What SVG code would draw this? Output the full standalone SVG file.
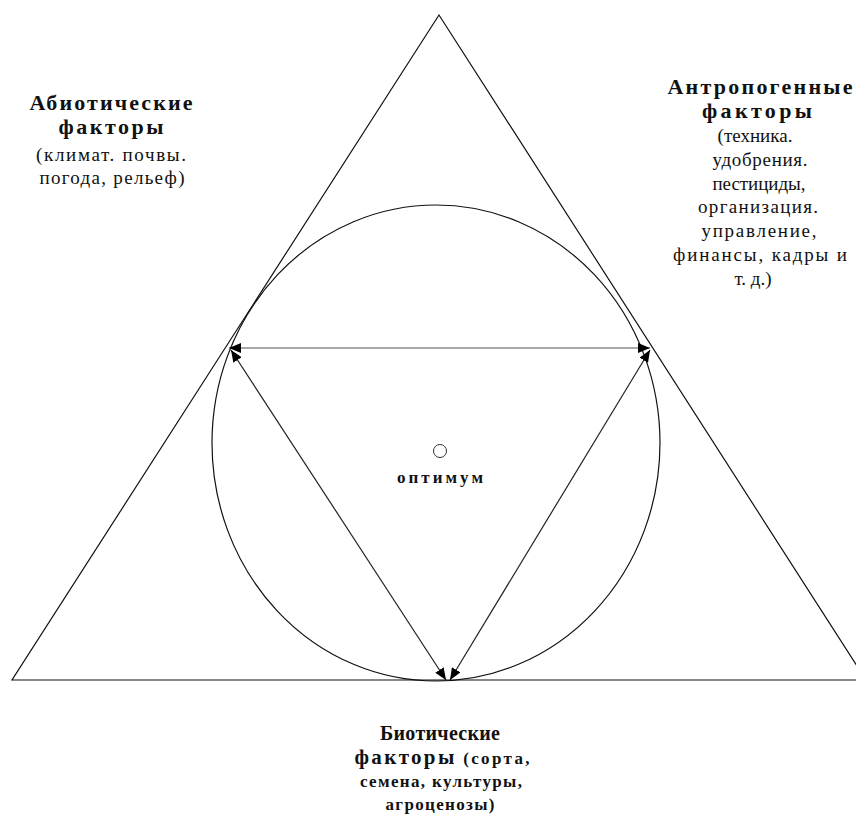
<svg xmlns="http://www.w3.org/2000/svg" width="856" height="820" viewBox="0 0 856 820" font-family="Liberation Serif, serif">
<style>
.ln{fill:none;stroke:#111;stroke-width:1.2}
.ar{fill:none;stroke:#222;stroke-width:1.2;marker-start:url(#ah);marker-end:url(#ah)}
.t{fill:#111;text-anchor:middle}
.b{font-weight:bold;font-size:22px}
.bs{font-weight:bold;font-size:17px}
.r{font-size:19px}
</style>
<defs>
<marker id="ah" viewBox="0 0 12 10" refX="12" refY="5" markerWidth="12" markerHeight="10" markerUnits="userSpaceOnUse" orient="auto-start-reverse">
<path d="M0,0 L12,5 L0,10 Z" fill="#000"/>
</marker>
</defs>
<rect width="856" height="820" fill="#fff"/>
<g id="triangle">
<polygon class="ln" points="439,15 12,680 866,680"/>
</g>
<g id="circle">
<ellipse class="ln" cx="436" cy="443" rx="224" ry="238"/>
</g>
<g id="connectors">
<line class="ar" x1="229" y1="348" x2="650" y2="348" style="stroke:#555"/>
<line class="ar" x1="231" y1="350" x2="446" y2="680"/>
<line class="ar" x1="650" y1="350" x2="450" y2="680"/>
</g>
<g id="optimum">
<circle cx="440" cy="451" r="6.5" fill="none" stroke="#333" stroke-width="1"/>
<text class="t bs" x="440" y="483" style="font-size:17px" textLength="86">оптимум</text>
</g>
<g id="abiotic">
<text class="t b" x="111" y="110" textLength="163">Абиотические</text>
<text class="t b" x="111" y="134" textLength="105">факторы</text>
<text class="t r" x="111" y="161" textLength="150">(климат. почвы.</text>
<text class="t r" x="112" y="184" textLength="145">погода, рельеф)</text>
</g>
<g id="anthropogenic">
<text class="t b" x="760" y="94" textLength="185">Антропогенные</text>
<text class="t b" x="757" y="118" textLength="110">факторы</text>
<text class="t r" x="755" y="142">(техника.</text>
<text class="t r" x="760" y="166" textLength="95">удобрения.</text>
<text class="t r" x="759" y="190" textLength="93">пестициды,</text>
<text class="t r" x="758" y="213" textLength="120">организация.</text>
<text class="t r" x="759" y="237" textLength="115">управление,</text>
<text class="t r" x="760" y="261" textLength="174">финансы, кадры и</text>
<text class="t r" x="753" y="285">т. д.)</text>
</g>
<g id="biotic">
<text class="t b" x="440" y="740" style="font-size:20px" textLength="120">Биотические</text>
<text class="t" x="442" y="764" textLength="175"><tspan class="b" style="font-size:21px">факторы</tspan><tspan class="bs"> (сорта,</tspan></text>
<text class="t bs" x="441" y="787" textLength="162">семена, культуры,</text>
<text class="t bs" x="440" y="810" textLength="109">агроценозы)</text>
</g>
</svg>
